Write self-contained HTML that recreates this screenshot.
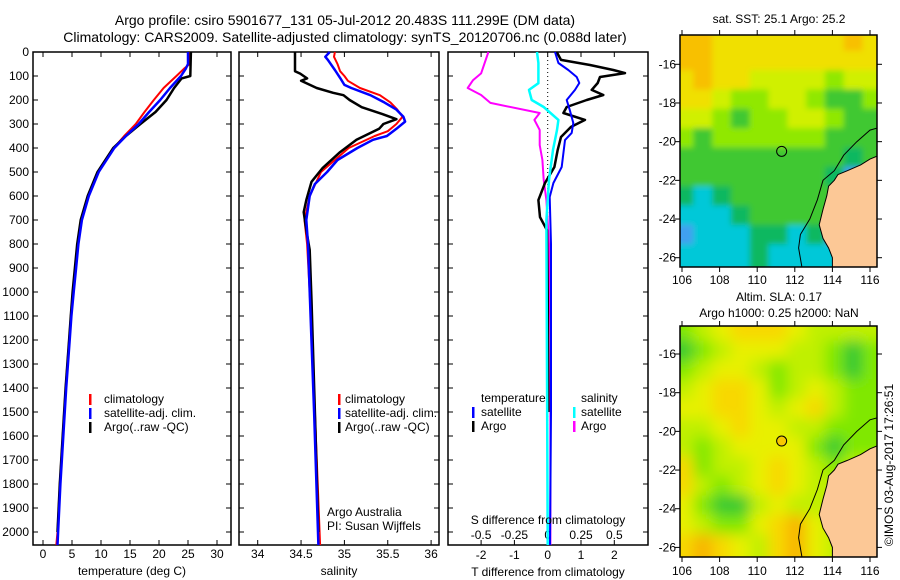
<!DOCTYPE html>
<html><head><meta charset="utf-8"><style>
html,body{margin:0;padding:0;background:#fff;}
svg{display:block;font-family:"Liberation Sans",Arial,sans-serif;font-size:12px;}
</style></head><body>
<svg id="chart" width="900" height="580" viewBox="0 0 900 580" xmlns="http://www.w3.org/2000/svg">
<defs>
<filter id="blur1" x="-5%" y="-5%" width="110%" height="110%"><feGaussianBlur stdDeviation="3"/></filter>
<filter id="blur2" x="-5%" y="-5%" width="110%" height="110%"><feGaussianBlur stdDeviation="7"/></filter>
<clipPath id="clipM1"><rect x="680" y="35" width="197" height="232"/></clipPath>
<clipPath id="clipM2"><rect x="680" y="326" width="197" height="231"/></clipPath>
</defs>
<text x="345" y="25" text-anchor="middle" style="font-size:14px">Argo profile: csiro 5901677_131 05-Jul-2012 20.483S 111.299E (DM data)</text>
<text x="345" y="42" text-anchor="middle" style="font-size:14px">Climatology: CARS2009. Satellite-adjusted climatology: synTS_20120706.nc (0.088d later)</text>
<text x="779" y="23" text-anchor="middle">sat. SST: 25.1 Argo: 25.2</text>
<text x="779" y="301" text-anchor="middle">Altim. SLA: 0.17</text>
<text x="779" y="317" text-anchor="middle">Argo h1000: 0.25 h2000: NaN</text>
<text transform="translate(893,465) rotate(-90)" text-anchor="middle">©IMOS 03-Aug-2017 17:26:51</text>
<g id="g"></g>
</svg>
<script>
// ---- Panel 1: temperature ----
const depT=[0,50,70,100,150,200,250,300,350,400,500,600,700,800,900,1000,1100,1200,1400,1600,1800,2000,2054];
const tClim=[25.3,25.3,24.3,23.0,20.8,19.1,17.5,16.0,14.0,12.2,9.5,7.8,6.6,6.0,5.6,5.2,4.8,4.5,3.9,3.4,2.9,2.5,2.3];
const tSat=[25.0,25.0,24.6,23.8,21.9,20.2,18.3,16.5,14.3,12.3,9.6,7.9,6.7,6.1,5.7,5.3,4.9,4.6,4.0,3.5,3.0,2.6,2.5];
const depTA=[0,100,110,150,200,250,300,350,400,500,600,700,800,900,1000,1100,1200,1400,1600,1800,2000];
const tArgo=[25.5,25.4,23.9,22.6,21.3,19.4,16.8,14.3,12.1,9.4,7.7,6.5,5.9,5.5,5.1,4.8,4.5,3.9,3.4,2.9,2.5];
const tTicks=[0,5,10,15,20,25,30];
// ---- Panel 2: salinity ----
const depSC=[0,20,50,80,100,120,150,180,210,240,270,300,330,350,400,500,600,700,800,1000,1500,2054];
const sClim=[34.89,34.88,34.92,34.95,35.0,35.04,35.18,35.41,35.53,35.61,35.67,35.6,35.5,35.35,35.05,34.73,34.6,34.54,34.57,34.6,34.66,34.72];
const depSS=[0,20,33,75,108,137,150,180,210,240,270,290,320,350,366,400,450,500,550,600,700,800,1000,1500,2054];
const sSat=[34.83,34.78,34.81,34.89,34.95,35.0,35.08,35.3,35.46,35.6,35.68,35.7,35.6,35.49,35.33,35.15,34.92,34.8,34.66,34.6,34.56,34.58,34.6,34.65,34.70];
const depSA=[0,80,90,110,120,150,170,180,200,230,260,280,300,320,366,417,483,541,617,667,742,825,1033,1500,2000];
const sArgo=[34.43,34.43,34.49,34.57,34.5,34.68,34.87,34.99,35.06,35.2,35.45,35.6,35.45,35.4,35.14,34.95,34.75,34.62,34.56,34.53,34.56,34.6,34.62,34.66,34.70];
const sTicks=[34,34.5,35,35.5,36];
// ---- Panel 3: differences ----
const depDSA=[0,89,117,150,179,212,254,283,325,388,450,533,617,800,1200,2054];
const dsArgo=[-0.445,-0.5,-0.56,-0.6,-0.5,-0.43,-0.06,-0.1,-0.06,-0.06,-0.04,-0.03,-0.01,0.01,0.02,0.02];
const depDSS=[0,46,130,158,200,229,283,325,408,533,700,2054];
const dsSat=[-0.08,-0.07,-0.07,-0.14,-0.12,-0.03,0.08,0.07,0.04,0.01,-0.01,0.0];
const depDTS=[0,46,75,104,129,158,200,241,296,337,367,479,546,604,800,1500,2054];
const dtSat=[0.22,0.32,0.62,0.87,0.95,0.82,0.57,0.66,0.77,0.72,0.52,0.42,0.17,0.06,0.1,0.1,0.07];
const depDTA=[0,33,54,75,88,104,129,158,179,200,229,254,283,312,354,408,479,546,617,688,742,1000,1500];
const dtArgo=[0.27,0.4,1.27,1.97,2.32,1.57,1.5,1.32,1.67,1.17,0.57,0.47,1.12,0.7,0.4,0.3,0.2,-0.08,-0.28,-0.23,-0.02,0.0,0.02];
const dtTicks=[-2,-1,0,1,2];
const dsTicks=[-0.5,-0.25,0,0.25,0.5];
const dsTickLabels=["-0.5","-0.25","0","0.25","0.5"];
const depthTicks=[0,100,200,300,400,500,600,700,800,900,1000,1100,1200,1300,1400,1500,1600,1700,1800,1900,2000];
// ---- Maps (1-degree cells, lat rows from 14.5S, lon cols from 106E) ----
const sstGrid=[
[0,0,1,1,1,1,1,1,1,0,1],
[0,0,1,1,1,1,1,1,1,1,1],
[1,0,1,1,2,2,2,2,3,2,2],
[1,1,2,3,3,2,2,3,4,4,3],
[2,2,3,4,3,3,2,2,3,4,4],
[3,4,3,3,3,3,3,3,4,4,4],
[4,4,4,4,4,4,4,4,4,5,4],
[4,4,4,4,4,4,4,4,5,7,4],
[5,6,5,4,4,4,4,4,4,4,4],
[6,6,6,5,4,4,4,4,4,4,4],
[7,6,6,6,5,5,6,5,7,4,4],
[6,6,6,6,5,6,6,6,6,4,4]];
const slaGrid=[
[4,3,2,1,1,1,2,3,3,3,3],
[5,4,3,2,2,2,3,3,4,5,4],
[4,3,2,2,3,4,3,3,4,5,4],
[3,2,1,1,2,4,3,2,3,4,4],
[2,2,1,1,2,3,2,1,3,4,4],
[3,3,2,1,2,2,3,3,4,4,4],
[3,4,3,2,2,2,2,4,5,4,4],
[1,4,3,3,2,1,2,3,4,3,3],
[1,3,4,3,2,1,2,3,3,3,3],
[2,4,5,5,3,2,3,3,3,3,3],
[2,3,4,4,2,1,0,2,3,3,3],
[1,0,1,2,3,1,0,2,3,3,3]];
const sstColors=["#f8c000","#f0e000","#d0f000","#90e800","#40c830","#10b860","#00c8d8","#40a0f0"];
const slaColors=["#f8b400","#f8d800","#e8f000","#c0f000","#80e800","#30c830"];
const landLon=[116.75,116,115.5,114.8,114.3,114.1,113.8,113.7,113.5,113.3,113.5,113.8,114,114,116.75];
const landLat=[20.6,20.9,21.2,21.5,21.7,22.0,22.3,22.8,23.5,24.3,25.0,25.5,26.0,26.6,26.6];
const isoLon=[116.75,116,115.3,114.6,114.1,113.5,113.2,112.8,112.3,112.2,112.4];
const isoLat=[19.2,19.4,20,20.7,21.5,22,23,24,24.8,25.5,26.6];
const profLon=[111.3], profLat=[20.5];
const lonTicks=[106,108,110,112,114,116];
const latTicks=[16,18,20,22,24,26];

const NS="http://www.w3.org/2000/svg";
const G=document.getElementById('g');
function el(tag,attrs,parent){const e=document.createElementNS(NS,tag);for(const k in attrs)e.setAttribute(k,attrs[k]);(parent||G).appendChild(e);return e;}

const yTop=52, yBot=545, pxPerM=0.24;
const yD=d=>yTop+d*pxPerM;
const xT=v=>43+v*5.8;
const xS=v=>257.7+(v-34)*86.7;
const xDT=v=>547.7+v*33.3;
const xDS=v=>547.7+v*133.3;

function line(xs,ds,xf,color,name,w){
  const pts=xs.map((v,i)=>xf(v).toFixed(1)+','+yD(ds[i]).toFixed(1)).join(' ');
  const p=el('polyline',{points:pts,fill:'none',stroke:color,'stroke-width':w||2,'stroke-linejoin':'round'});
  
  
}
function panelFrame(x0,x1,name,labels){
  const r=el('rect',{x:x0,y:yTop,width:x1-x0,height:yBot-yTop,fill:'none',stroke:'#000','stroke-width':1.5});
  
  
  depthTicks.forEach(d=>{
    const y=yD(d);
    el('line',{x1:x0,x2:x0+5,y1:y,y2:y,stroke:'#000'});
    el('line',{x1:x1-5,x2:x1,y1:y,y2:y,stroke:'#000'});
    if(labels){const t=el('text',{x:x0-4,y:y+4,'text-anchor':'end'});t.textContent=d;
      
      }
  });
}
function xTicks(ticks,labels,xf,ly,name){
  ticks.forEach((v,i)=>{
    const x=xf(v);
    el('line',{x1:x,x2:x,y1:yBot-5,y2:yBot,stroke:'#000'});
    el('line',{x1:x,x2:x,y1:yTop,y2:yTop+5,stroke:'#000'});
    if(ly){const t=el('text',{x:x,y:ly,'text-anchor':'middle'});t.textContent=labels[i];
      
      }
  });
}
function txt(x,y,s,name,anchor){const t=el('text',{x:x,y:y,'text-anchor':anchor||'start'});t.textContent=s;
  
  return t;}
function legBar(x,y,color,name){const r=el('rect',{x:x,y:y-9,width:2.5,height:11,fill:color});
  
  }

// Panel 1
panelFrame(33,231,'temperature-panel',true);
xTicks(tTicks,tTicks.map(String),xT,558,'temperature-tick-label');
line(tClim,depT,xT,'#ff0000','temperature-climatology-line');
line(tArgo,depTA,xT,'#000000','temperature-argo-line',2.5);
line(tSat,depT,xT,'#0000ff','temperature-satellite-line',2.5);
txt(132,575,'temperature (deg C)','temperature-axis-title','middle');
legBar(89,403,'#ff0000','legend-climatology-marker');txt(104,403,'climatology','legend-climatology');
legBar(89,417,'#0000ff','legend-satellite-marker');txt(104,417,'satellite-adj. clim.','legend-satellite');
legBar(89,431,'#000000','legend-argo-marker');txt(104,431,'Argo(..raw -QC)','legend-argo');

// Panel 2
panelFrame(239,439,'salinity-panel',false);
xTicks(sTicks,sTicks.map(String),xS,558,'salinity-tick-label');
line(sClim,depSC,xS,'#ff0000','salinity-climatology-line');
line(sArgo,depSA,xS,'#000000','salinity-argo-line',2.5);
line(sSat,depSS,xS,'#0000ff','salinity-satellite-line',2.5);
txt(339,575,'salinity','salinity-axis-title','middle');
legBar(338,403,'#ff0000','legend2-climatology-marker');txt(345,403,'climatology','legend2-climatology');
legBar(338,417,'#0000ff','legend2-satellite-marker');txt(345,417,'satellite-adj. clim.','legend2-satellite');
legBar(338,431,'#000000','legend2-argo-marker');txt(345,431,'Argo(..raw -QC)','legend2-argo');
txt(327,516,'Argo Australia','credit-argo-australia');
txt(327,530,'PI: Susan Wijffels','credit-pi');

// Panel 3
panelFrame(448,648,'difference-panel',false);
xTicks(dtTicks,dtTicks.map(String),xDT,559,'t-diff-tick-label');
dsTicks.forEach((v,i)=>{const t=txt(xDS(v),539,dsTickLabels[i],'s-diff-tick-label','middle');});
el('line',{x1:547.7,x2:547.7,y1:yTop,y2:yBot,stroke:'#000','stroke-dasharray':'1,3'});
line(dsArgo,depDSA,xDS,'#ff00ff','salinity-diff-argo-line');
line(dtArgo,depDTA,xDT,'#000000','temperature-diff-argo-line',2.5);
line(dtSat,depDTS,xDT,'#0000ff','temperature-diff-satellite-line');
line(dsSat,depDSS,xDS,'#00ffff','salinity-diff-satellite-line',2.5);
txt(548,524,'S difference from climatology','s-diff-axis-title','middle');
txt(548,576,'T difference from climatology','t-diff-axis-title','middle');
txt(481,402,'temperature','legend3-temperature-heading');
legBar(472,416,'#0000ff','legend3-t-satellite-marker');txt(481,416,'satellite','legend3-t-satellite');
legBar(472,430,'#000000','legend3-t-argo-marker');txt(481,430,'Argo','legend3-t-argo');
txt(581,402,'salinity','legend3-salinity-heading');
legBar(573,416,'#00ffff','legend3-s-satellite-marker');txt(581,416,'satellite','legend3-s-satellite');
legBar(573,430,'#ff00ff','legend3-s-argo-marker');txt(581,430,'Argo','legend3-s-argo');

// Maps
function drawMap(grid,colors,y0,y1,lat16y,clip,blur,name,dotFill,labelY){
  const mx=lon=>682+(lon-106)*18.8;
  const my=lat=>lat16y+(lat-16)*19.34;
  const g=el('g',{'clip-path':'url(#'+clip+')'});
  
  
  const gc=el('g',{filter:'url(#'+blur+')'},g);
  const nr=grid.length;
  grid.forEach((row,r)=>row.forEach((v,c)=>{
    const lon=105.6+c, lat=14.3+r;
    const x=mx(lon), y=my(lat);
    const w=(c===0?-20:0)+(c===row.length-1?40:19.6);
    const h=(r===nr-1?40:20);
    const cell=el('rect',{x:(c===0?x-20:x).toFixed(1),y:(r===0?y-20:y).toFixed(1),width:(c===0?39.6:w),height:(r===0?40:h),fill:colors[v]},gc);
    
    
  }));
  const lp=el('polygon',{points:landLon.map((v,i)=>mx(v).toFixed(1)+','+my(landLat[i]).toFixed(1)).join(' '),fill:'#fcc896',stroke:'#000','stroke-width':1},g);
  
  
  const iso=el('polyline',{points:isoLon.map((v,i)=>mx(v).toFixed(1)+','+my(isoLat[i]).toFixed(1)).join(' '),fill:'none',stroke:'#000','stroke-width':1},g);
  
  
  const dot=el('circle',{cx:mx(profLon[0]),cy:my(profLat[0]),r:5,fill:dotFill,stroke:'#000','stroke-width':1});
  
  
  const fr=el('rect',{x:680,y:y0,width:197,height:y1-y0,fill:'none',stroke:'#000','stroke-width':1.5});
  
  
  lonTicks.forEach(v=>{const x=mx(v);
    el('line',{x1:x,x2:x,y1:y0-5,y2:y0,stroke:'#000'});
    el('line',{x1:x,x2:x,y1:y1,y2:y1+5,stroke:'#000'});
    txt(x,labelY,String(v),'lon-tick-label','middle');});
  latTicks.forEach(v=>{const y=my(v);
    el('line',{x1:675,x2:680,y1:y,y2:y,stroke:'#000'});
    el('line',{x1:877,x2:882,y1:y,y2:y,stroke:'#000'});
    txt(676,y+4,'-'+v,'lat-tick-label','end');});
}
drawMap(sstGrid,sstColors,35,267,64.3,'clipM1','blur1','sst-map','none',284);
drawMap(slaGrid,slaColors,326,557,354,'clipM2','blur2','sla-map','#f8c800',575);
</script>
</body></html>
